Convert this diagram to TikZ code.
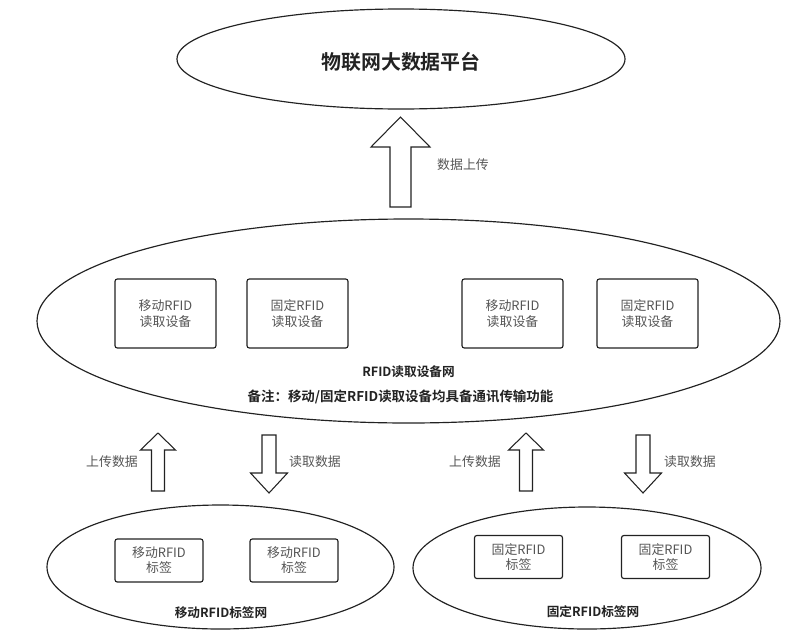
\documentclass[tikz,border=0pt]{standalone}
\usepackage{fontspec}
\setmainfont{Noto Sans CJK SC}[BoldFont={Noto Sans CJK SC Bold}]
\usepackage{tikz}
\usetikzlibrary{shapes.geometric,positioning}
\definecolor{rfidgray}{HTML}{555555}
\definecolor{rfiddark}{HTML}{222222}
\tikzset{
    rfidnet/.style={ellipse, draw=rfiddark, line width=1pt, inner sep=0pt},
    rfidbox/.style={draw=rfiddark, rounded corners=2pt, line width=1pt, align=center, text=rfidgray, inner sep=0pt},
    rfidarrow/.style={draw=rfiddark, line width=0.9pt, fill=white, line join=miter},
    rfidnote/.style={font=\fontsize{11}{13}\selectfont, text=rfidgray, inner sep=1pt},
    rfidtitle/.style={font=\bfseries\fontsize{10.8}{13}\selectfont, text=rfiddark, inner sep=1pt}
}

\begin{document}
\begin{tikzpicture}[x=0.3mm, y=-0.3mm,
        readerbox/.style={rfidbox, minimum width=101*0.3mm, minimum height=69*0.3mm, font=\fontsize{11}{13.7}\selectfont},
        tagbox/.style={rfidbox, minimum width=88*0.3mm, minimum height=43*0.3mm, font=\fontsize{11}{12.8}\selectfont}
    ]
        \useasboundingbox (0,0) rectangle (812,641);

        % platform
        \node[rfidnet, minimum width=448*0.3mm, minimum height=100*0.3mm] (cloud) at (401,59) {};
        \node[font=\bfseries\fontsize{17}{20}\selectfont, text=rfiddark] (cloudtxt) at (401,62) {物联网大数据平台};

        % reader network
        \node[rfidnet, minimum width=743*0.3mm, minimum height=204*0.3mm] (readnet) at (408.5,321) {};
        \node[readerbox] (rd1) at (165.5,313.5) {移动RFID\\读取设备};
        \node[readerbox] (rd2) at (297.5,313.5) {固定RFID\\读取设备};
        \node[readerbox] (rd3) at (512.5,313.5) {移动RFID\\读取设备};
        \node[readerbox] (rd4) at (647.5,313.5) {固定RFID\\读取设备};
        \node[rfidtitle] (readname) at (408.5,372) {RFID读取设备网};
        \node[rfidtitle, font=\bfseries\fontsize{11.5}{13}\selectfont] (readnote) at (400.5,397) {备注：移动/固定RFID读取设备均具备通讯传输功能};

        % tag networks
        \node[rfidnet, minimum width=347*0.3mm, minimum height=124*0.3mm] (mobnet) at (220.5,567) {};
        \node[tagbox] (tg1) at (159,560.5) {移动RFID\\标签};
        \node[tagbox] (tg2) at (294,560.5) {移动RFID\\标签};
        \node[rfidtitle] (mobname) at (221,613) {移动RFID标签网};

        \node[rfidnet, minimum width=348*0.3mm, minimum height=122*0.3mm] (fixnet) at (587,568) {};
        \node[tagbox] (tg3) at (518.5,557) {固定RFID\\标签};
        \node[tagbox] (tg4) at (665.5,557) {固定RFID\\标签};
        \node[rfidtitle] (fixname) at (593,612) {固定RFID标签网};

        % block arrows
        \draw[rfidarrow] (390,207) -- (390,147) -- (371,147) -- (400.5,117) -- (430,147) -- (411,147) -- (411,207) -- cycle;
        \foreach \x in {158,526} {
            \draw[rfidarrow] (\x-6.5,491) -- (\x-6.5,450) -- (\x-17.5,450) -- (\x,433) -- (\x+17.5,450) -- (\x+6.5,450) -- (\x+6.5,491) -- cycle;
        }
        \foreach \x in {269,643} {
            \draw[rfidarrow] (\x-7,435) -- (\x-7,473) -- (\x-18.5,473) -- (\x,493) -- (\x+18.5,473) -- (\x+7,473) -- (\x+7,435) -- cycle;
        }

        \node[rfidnote] (upload) at (463,165) {数据上传};
        \node[rfidnote] (up1) at (112,462) {上传数据};
        \node[rfidnote] (down1) at (315,462) {读取数据};
        \node[rfidnote] (up2) at (475,462) {上传数据};
        \node[rfidnote] (down2) at (690,462) {读取数据};
    \end{tikzpicture}
\end{document}
